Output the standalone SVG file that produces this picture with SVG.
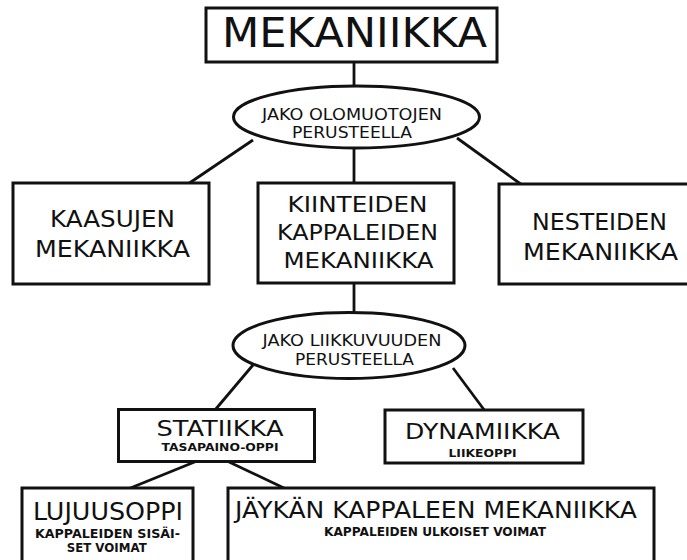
<svg xmlns="http://www.w3.org/2000/svg" width="687" height="560" viewBox="0 0 687 560">
<style>
.bx{fill:#fff;stroke:#111;stroke-width:3}
.cn{stroke:#111;stroke-width:2.8;fill:none}
text{font-family:"DejaVu Sans","Verdana",sans-serif;fill:#111;text-anchor:middle}
.sub{font-weight:bold}
</style>
<rect width="687" height="560" fill="#fff"/>
<g id="connectors">
<line class="cn" x1="354" y1="62" x2="354" y2="87"/>
<line class="cn" x1="253" y1="140" x2="188" y2="184"/>
<line class="cn" x1="457" y1="138" x2="522" y2="185"/>
<line class="cn" x1="354" y1="147" x2="354" y2="184"/>
<line class="cn" x1="354" y1="283" x2="354" y2="313"/>
<line class="cn" x1="253" y1="365" x2="215" y2="410"/>
<line class="cn" x1="453" y1="368" x2="485" y2="411"/>
<line class="cn" x1="197" y1="461" x2="128" y2="489"/>
<line class="cn" x1="227" y1="461" x2="286" y2="489"/>
</g>
<g id="mekaniikka">
<rect class="bx" x="206" y="8" width="291" height="54"/>
<text x="354.5" y="46.7" font-size="41" textLength="265" lengthAdjust="spacingAndGlyphs">MEKANIIKKA</text>
</g>
<g id="jako-olomuotojen">
<ellipse class="bx" cx="356.5" cy="117" rx="123" ry="31"/>
<text x="352" y="120" font-size="15.5" textLength="180" lengthAdjust="spacingAndGlyphs">JAKO OLOMUOTOJEN</text>
<text x="352" y="138" font-size="15.5" textLength="120" lengthAdjust="spacingAndGlyphs">PERUSTEELLA</text>
</g>
<g id="kaasujen">
<rect class="bx" x="13" y="183" width="196" height="101"/>
<text x="112.5" y="227.3" font-size="23" textLength="125" lengthAdjust="spacingAndGlyphs">KAASUJEN</text>
<text x="112.5" y="256.7" font-size="23" textLength="155" lengthAdjust="spacingAndGlyphs">MEKANIIKKA</text>
</g>
<g id="kiinteiden">
<rect class="bx" x="258" y="183" width="196" height="100"/>
<text x="357.5" y="212.3" font-size="22" textLength="140" lengthAdjust="spacingAndGlyphs">KIINTEIDEN</text>
<text x="357.5" y="240" font-size="22" textLength="161" lengthAdjust="spacingAndGlyphs">KAPPALEIDEN</text>
<text x="358.5" y="267.7" font-size="22" textLength="150" lengthAdjust="spacingAndGlyphs">MEKANIIKKA</text>
</g>
<g id="nesteiden">
<rect class="bx" x="499" y="184" width="202" height="100"/>
<text x="599.5" y="230" font-size="23" textLength="135" lengthAdjust="spacingAndGlyphs">NESTEIDEN</text>
<text x="600.5" y="260" font-size="23" textLength="155" lengthAdjust="spacingAndGlyphs">MEKANIIKKA</text>
</g>
<g id="jako-liikkuvuuden">
<ellipse class="bx" cx="349" cy="345.5" rx="116" ry="33"/>
<text x="352" y="346" font-size="15.5" textLength="179" lengthAdjust="spacingAndGlyphs">JAKO LIIKKUVUUDEN</text>
<text x="354.5" y="365" font-size="15.5" textLength="119" lengthAdjust="spacingAndGlyphs">PERUSTEELLA</text>
</g>
<g id="statiikka">
<rect class="bx" x="118.5" y="409.5" width="196" height="52"/>
<text x="220" y="435.5" font-size="22" textLength="127" lengthAdjust="spacingAndGlyphs">STATIIKKA</text>
<text class="sub" x="220" y="451" font-size="11" textLength="117" lengthAdjust="spacingAndGlyphs">TASAPAINO-OPPI</text>
</g>
<g id="dynamiikka">
<rect class="bx" x="385" y="410" width="198" height="53"/>
<text x="482.5" y="439" font-size="22" textLength="155" lengthAdjust="spacingAndGlyphs">DYNAMIIKKA</text>
<text class="sub" x="482.5" y="456.7" font-size="11" textLength="68" lengthAdjust="spacingAndGlyphs">LIIKEOPPI</text>
</g>
<g id="lujuusoppi">
<rect class="bx" x="22" y="488" width="171" height="100"/>
<text x="108" y="520" font-size="24" textLength="150" lengthAdjust="spacingAndGlyphs">LUJUUSOPPI</text>
<text class="sub" x="107.5" y="538.3" font-size="11.5" textLength="145" lengthAdjust="spacingAndGlyphs">KAPPALEIDEN SISÄI-</text>
<text class="sub" x="106.7" y="551.7" font-size="11.5" textLength="80" lengthAdjust="spacingAndGlyphs">SET VOIMAT</text>
</g>
<g id="jaykan">
<rect class="bx" x="228" y="488" width="426" height="100"/>
<text x="436" y="518" font-size="22.5" textLength="402" lengthAdjust="spacingAndGlyphs">JÄYKÄN KAPPALEEN MEKANIIKKA</text>
<text class="sub" x="435" y="536" font-size="12" textLength="222" lengthAdjust="spacingAndGlyphs">KAPPALEIDEN ULKOISET VOIMAT</text>
</g>
</svg>
